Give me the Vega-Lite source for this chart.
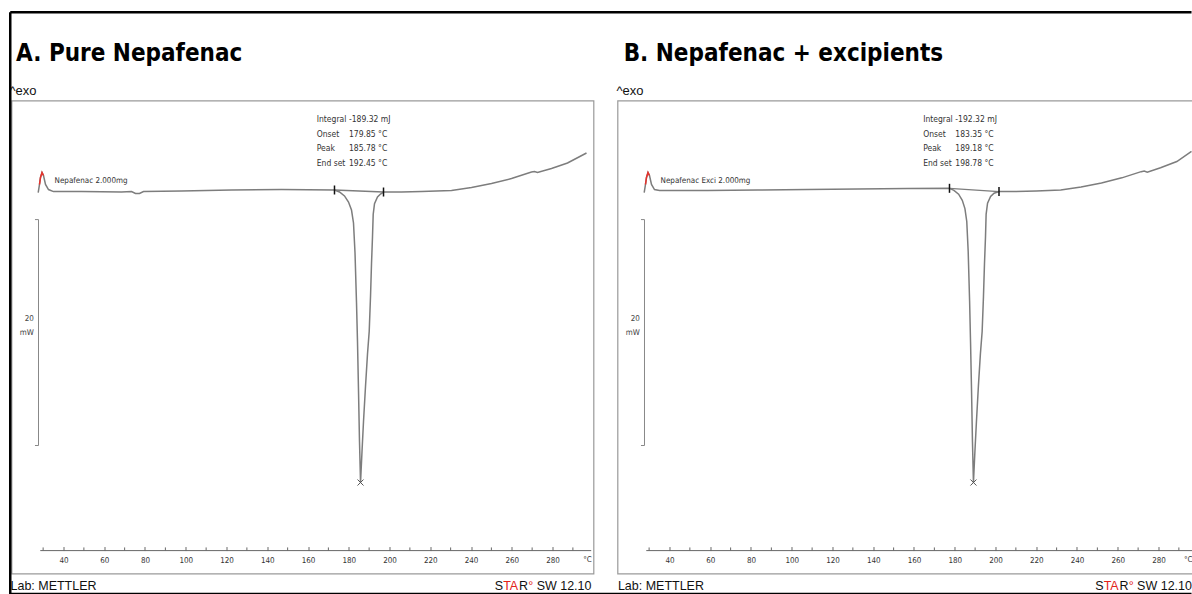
{
  "$schema": "https://vega.github.io/schema/vega-lite/v6.json",
  "background": "white",
  "padding": {"left": 7.5, "top": 9.55, "right": 0, "bottom": 0},
  "bounds": "flush",
  "spacing": 24,
  "config": {"view": {"stroke": "#9a9a9a", "strokeWidth": 1.2}},
  "datasets": {
    "curveA": [
      {"T": 27.58, "mW": -0.36}, {"T": 28.22, "mW": 0.36}, {"T": 28.71, "mW": 0.98}, {"T": 29.45, "mW": 1.42},
      {"T": 30.18, "mW": 1.16}, {"T": 31.17, "mW": 0.36}, {"T": 32.64, "mW": -0.09}, {"T": 35.09, "mW": -0.27},
      {"T": 48.83, "mW": -0.27}, {"T": 68.47, "mW": -0.31}, {"T": 73.37, "mW": -0.27}, {"T": 75.34, "mW": -0.44},
      {"T": 77.3, "mW": -0.44}, {"T": 79.26, "mW": -0.27}, {"T": 97.91, "mW": -0.22}, {"T": 122.45, "mW": -0.13},
      {"T": 146.99, "mW": -0.09}, {"T": 173.0, "mW": -0.13}, {"T": 175.46, "mW": -0.31}, {"T": 177.91, "mW": -0.66},
      {"T": 179.88, "mW": -1.2}, {"T": 181.35, "mW": -1.91}, {"T": 182.33, "mW": -3.06}, {"T": 183.07, "mW": -5.7},
      {"T": 183.8, "mW": -10.1}, {"T": 184.29, "mW": -13.6}, {"T": 184.79, "mW": -18.0}, {"T": 185.28, "mW": -22.5},
      {"T": 185.78, "mW": -26.13}, {"T": 186.5, "mW": -23.4}, {"T": 187.24, "mW": -20.7}, {"T": 188.22, "mW": -17.6},
      {"T": 189.2, "mW": -14.7}, {"T": 190.04, "mW": -12.7}, {"T": 190.68, "mW": -9.6}, {"T": 191.17, "mW": -6.67},
      {"T": 191.66, "mW": -4.27}, {"T": 192.0, "mW": -2.3}, {"T": 192.64, "mW": -1.35}, {"T": 194.11, "mW": -0.75},
      {"T": 195.58, "mW": -0.49}, {"T": 197.06, "mW": -0.31}, {"T": 205.89, "mW": -0.31}, {"T": 215.71, "mW": -0.27},
      {"T": 230.43, "mW": -0.18}, {"T": 240.25, "mW": 0.09}, {"T": 250.06, "mW": 0.44}, {"T": 259.88, "mW": 0.89},
      {"T": 269.69, "mW": 1.47}, {"T": 271.17, "mW": 1.51}, {"T": 272.64, "mW": 1.42}, {"T": 279.51, "mW": 1.78},
      {"T": 287.36, "mW": 2.27}, {"T": 296.69, "mW": 3.16}
    ],
    "curveB": [
      {"T": 27.58, "mW": -0.36}, {"T": 28.22, "mW": 0.36}, {"T": 28.71, "mW": 0.98}, {"T": 29.45, "mW": 1.42},
      {"T": 30.18, "mW": 1.16}, {"T": 31.17, "mW": 0.36}, {"T": 32.64, "mW": -0.09}, {"T": 35.09, "mW": -0.18},
      {"T": 58.65, "mW": -0.18}, {"T": 83.19, "mW": -0.13}, {"T": 107.73, "mW": -0.09}, {"T": 132.27, "mW": -0.04},
      {"T": 156.81, "mW": 0.0}, {"T": 177.42, "mW": 0.02}, {"T": 179.6, "mW": -0.16}, {"T": 181.9, "mW": -0.5},
      {"T": 183.7, "mW": -1.05}, {"T": 185.0, "mW": -1.78}, {"T": 185.9, "mW": -2.93}, {"T": 186.6, "mW": -5.6},
      {"T": 187.3, "mW": -10.04}, {"T": 187.75, "mW": -13.6}, {"T": 188.25, "mW": -18.0}, {"T": 188.7, "mW": -22.5},
      {"T": 189.18, "mW": -26.13}, {"T": 189.9, "mW": -23.38}, {"T": 190.65, "mW": -20.71}, {"T": 191.6, "mW": -17.6},
      {"T": 192.6, "mW": -14.67}, {"T": 193.45, "mW": -12.71}, {"T": 194.1, "mW": -9.6}, {"T": 194.6, "mW": -6.67},
      {"T": 195.1, "mW": -4.27}, {"T": 195.4, "mW": -2.3}, {"T": 196.1, "mW": -1.3}, {"T": 197.6, "mW": -0.7},
      {"T": 199.3, "mW": -0.42}, {"T": 201.72, "mW": -0.27}, {"T": 210.0, "mW": -0.27}, {"T": 220.0, "mW": -0.22},
      {"T": 232.0, "mW": -0.13}, {"T": 242.0, "mW": 0.13}, {"T": 252.0, "mW": 0.5}, {"T": 262.0, "mW": 0.95},
      {"T": 271.5, "mW": 1.5}, {"T": 273.0, "mW": 1.55}, {"T": 274.5, "mW": 1.45}, {"T": 281.0, "mW": 1.85},
      {"T": 289.0, "mW": 2.4}, {"T": 296.2, "mW": 3.3}
    ],
    "limitsA": [
      {"kind": "limit", "T": 173.0, "mW": -0.13},
      {"kind": "limit", "T": 197.06, "mW": -0.31},
      {"kind": "peak", "T": 185.78, "mW": -26.13}
    ],
    "limitsB": [
      {"kind": "limit", "T": 177.42, "mW": 0.02},
      {"kind": "limit", "T": 201.72, "mW": -0.27},
      {"kind": "peak", "T": 189.18, "mW": -26.13}
    ],
    "annA": [
      {"label": "Integral", "value": "-189.32 mJ", "mW": 6.18},
      {"label": "Onset", "value": "179.85 °C", "mW": 4.86},
      {"label": "Peak", "value": "185.78 °C", "mW": 3.56},
      {"label": "End set", "value": "192.45 °C", "mW": 2.24}
    ],
    "annB": [
      {"label": "Integral", "value": "-192.32 mJ", "mW": 6.18},
      {"label": "Onset", "value": "183.35 °C", "mW": 4.86},
      {"label": "Peak", "value": "189.18 °C", "mW": 3.56},
      {"label": "End set", "value": "198.78 °C", "mW": 2.24}
    ],
    "minorTicks": [
      {"T": 30}, {"T": 50}, {"T": 70}, {"T": 90}, {"T": 110}, {"T": 130}, {"T": 150},
      {"T": 170}, {"T": 190}, {"T": 210}, {"T": 230}, {"T": 250}, {"T": 270}, {"T": 290}
    ],
    "metaA": [{"title": "A. Pure Nepafenac", "sample": "Nepafenac 2.000mg"}],
    "metaB": [{"title": "B. Nepafenac + excipients", "sample": "Nepafenac  Exci 2.000mg"}]
  },
  "hconcat": [
    {
      "width": 582,
      "height": 473,
      "layer": [
        {
          "data": {"name": "curveA"},
          "mark": {"type": "line", "color": "#7d7d7d", "strokeWidth": 1.5},
          "encoding": {
            "x": {"field": "T", "type": "quantitative",
              "scale": {"domain": [14.48, 300.12], "nice": false, "zero": false},
              "axis": {"values": [40,60,80,100,120,140,160,180,200,220,240,260,280],
                "offset": -23, "domain": false, "grid": false, "tickSize": -4, "tickColor": "#666", "tickWidth": 1,
                "labelPadding": 10, "labelFont": "DejaVu Sans Condensed, Liberation Sans, sans-serif",
                "labelFontSize": 8, "labelColor": "#333", "title": null, "labelFlush": false, "labelOverlap": false}},
            "y": {"field": "mW", "type": "quantitative",
              "scale": {"domain": [-34.22, 7.82], "nice": false, "zero": false}, "axis": null}
          }
        },
        {
          "data": {"name": "curveA"},
          "transform": [{"filter": "datum.T >= 28.2 && datum.T <= 30.2"}],
          "mark": {"type": "line", "color": "#e8312b", "strokeWidth": 1.5},
          "encoding": {"x": {"field": "T", "type": "quantitative"}, "y": {"field": "mW", "type": "quantitative"}}
        },
        {
          "data": {"name": "limitsA"},
          "transform": [{"filter": "datum.kind == 'limit'"}],
          "mark": {"type": "line", "color": "#7d7d7d", "strokeWidth": 1.3},
          "encoding": {"x": {"field": "T", "type": "quantitative"}, "y": {"field": "mW", "type": "quantitative"}}
        },
        {
          "data": {"name": "limitsA"},
          "transform": [{"filter": "datum.kind == 'limit'"}],
          "mark": {"type": "tick", "orient": "vertical", "color": "#111", "size": 9, "thickness": 1.5, "opacity": 1},
          "encoding": {"x": {"field": "T", "type": "quantitative"}, "y": {"field": "mW", "type": "quantitative"}}
        },
        {
          "data": {"name": "limitsA"},
          "transform": [{"filter": "datum.kind == 'peak'"}],
          "mark": {"type": "point", "shape": "M-1,-1L1,1M-1,1L1,-1", "size": 36, "filled": false, "color": "#555", "strokeWidth": 1, "opacity": 1},
          "encoding": {"x": {"field": "T", "type": "quantitative"}, "y": {"field": "mW", "type": "quantitative"}}
        },
        {
          "data": {"name": "minorTicks"},
          "mark": {"type": "rule", "color": "#666", "strokeWidth": 1},
          "encoding": {"x": {"field": "T", "type": "quantitative"}, "y": {"datum": -32.18, "type": "quantitative"}, "y2": {"datum": -31.9}}
        },
        {
          "data": {"name": "annA"},
          "mark": {"type": "text", "align": "left", "baseline": "middle", "font": "DejaVu Sans Condensed, Liberation Sans, sans-serif", "fontSize": 8.5, "color": "#333"},
          "encoding": {"x": {"datum": 164.3, "type": "quantitative"}, "y": {"field": "mW", "type": "quantitative"}, "text": {"field": "label"}}
        },
        {
          "data": {"name": "annA"},
          "mark": {"type": "text", "align": "left", "baseline": "middle", "font": "DejaVu Sans Condensed, Liberation Sans, sans-serif", "fontSize": 8.5, "color": "#333"},
          "encoding": {"x": {"datum": 180.1, "type": "quantitative"}, "y": {"field": "mW", "type": "quantitative"}, "text": {"field": "value"}}
        },
        {
          "data": {"name": "metaA"},
          "mark": {"type": "text", "align": "left", "baseline": "middle", "font": "DejaVu Sans Condensed, Liberation Sans, sans-serif", "fontSize": 8, "color": "#333"},
          "encoding": {"x": {"datum": 35.6, "type": "quantitative"}, "y": {"datum": 0.71, "type": "quantitative"}, "text": {"field": "sample"}}
        },
        {
          "data": {"name": "metaA"},
          "mark": {"type": "text", "align": "left", "baseline": "alphabetic", "font": "DejaVu Sans Condensed, Liberation Sans, sans-serif", "fontSize": 24, "fontWeight": "bold", "color": "#000"},
          "encoding": {"x": {"datum": 16.7, "type": "quantitative"}, "y": {"datum": 11.33, "type": "quantitative"}, "text": {"field": "title"}}
        },
        {
          "data": {"name": "metaA"},
          "mark": {"type": "text", "text": "^exo", "align": "left", "baseline": "alphabetic", "font": "Liberation Sans, Arial, sans-serif", "fontSize": 13, "color": "#111"},
          "encoding": {"x": {"datum": 13.5, "type": "quantitative"}, "y": {"datum": 8.27, "type": "quantitative"}}
        },
        {
          "data": {"name": "metaA"},
          "mark": {"type": "rule", "color": "#888", "strokeWidth": 1},
          "encoding": {"x": {"datum": 27.73, "type": "quantitative"}, "y": {"datum": -2.76, "type": "quantitative"}, "y2": {"datum": -22.84}}
        },
        {
          "data": {"name": "metaA"},
          "mark": {"type": "rule", "color": "#888", "strokeWidth": 1},
          "encoding": {"x": {"datum": 26.0, "type": "quantitative"}, "x2": {"datum": 27.73}, "y": {"datum": -2.76, "type": "quantitative"}}
        },
        {
          "data": {"name": "metaA"},
          "mark": {"type": "rule", "color": "#888", "strokeWidth": 1},
          "encoding": {"x": {"datum": 26.0, "type": "quantitative"}, "x2": {"datum": 27.73}, "y": {"datum": -22.84, "type": "quantitative"}}
        },
        {
          "data": {"name": "metaA"},
          "mark": {"type": "text", "text": "20", "align": "right", "baseline": "middle", "font": "DejaVu Sans Condensed, Liberation Sans, sans-serif", "fontSize": 8, "color": "#444"},
          "encoding": {"x": {"datum": 25.42, "type": "quantitative"}, "y": {"datum": -11.56, "type": "quantitative"}}
        },
        {
          "data": {"name": "metaA"},
          "mark": {"type": "text", "text": "mW", "align": "right", "baseline": "middle", "font": "DejaVu Sans Condensed, Liberation Sans, sans-serif", "fontSize": 8, "color": "#444"},
          "encoding": {"x": {"datum": 25.42, "type": "quantitative"}, "y": {"datum": -12.85, "type": "quantitative"}}
        },
        {
          "data": {"name": "metaA"},
          "mark": {"type": "rule", "color": "#666", "strokeWidth": 1},
          "encoding": {"x": {"datum": 28.6, "type": "quantitative"}, "x2": {"datum": 299.0}, "y": {"datum": -32.18, "type": "quantitative"}}
        },
        {
          "data": {"name": "metaA"},
          "mark": {"type": "text", "text": "°C", "align": "center", "baseline": "middle", "font": "DejaVu Sans Condensed, Liberation Sans, sans-serif", "fontSize": 8, "color": "#333"},
          "encoding": {"x": {"datum": 297.2, "type": "quantitative"}, "y": {"datum": -33.0, "type": "quantitative"}}
        },
        {
          "data": {"name": "metaA"},
          "mark": {"type": "text", "text": "Lab: METTLER", "align": "left", "baseline": "alphabetic", "font": "Liberation Sans, Arial, sans-serif", "fontSize": 12.5, "color": "#111"},
          "encoding": {"x": {"datum": 13.99, "type": "quantitative"}, "y": {"datum": -35.64, "type": "quantitative"}}
        },
        {
          "data": {"name": "metaA"},
          "mark": {"type": "text", "text": "S", "align": "left", "baseline": "alphabetic", "font": "Liberation Sans, Arial, sans-serif", "fontSize": 12.5, "color": "#111"},
          "encoding": {"x": {"datum": 251.68, "type": "quantitative"}, "y": {"datum": -35.64, "type": "quantitative"}}
        },
        {
          "data": {"name": "metaA"},
          "mark": {"type": "text", "text": "TA", "dx": 8.34, "align": "left", "baseline": "alphabetic", "font": "Liberation Sans, Arial, sans-serif", "fontSize": 12.5, "color": "#e2231a"},
          "encoding": {"x": {"datum": 251.68, "type": "quantitative"}, "y": {"datum": -35.64, "type": "quantitative"}}
        },
        {
          "data": {"name": "metaA"},
          "mark": {"type": "text", "text": "R", "dx": 24.32, "align": "left", "baseline": "alphabetic", "font": "Liberation Sans, Arial, sans-serif", "fontSize": 12.5, "color": "#111"},
          "encoding": {"x": {"datum": 251.68, "type": "quantitative"}, "y": {"datum": -35.64, "type": "quantitative"}}
        },
        {
          "data": {"name": "metaA"},
          "mark": {"type": "text", "text": "°", "dx": 33.35, "align": "left", "baseline": "alphabetic", "font": "Liberation Sans, Arial, sans-serif", "fontSize": 12.5, "color": "#e2231a"},
          "encoding": {"x": {"datum": 251.68, "type": "quantitative"}, "y": {"datum": -35.64, "type": "quantitative"}}
        },
        {
          "data": {"name": "metaA"},
          "mark": {"type": "text", "text": "SW 12.10", "dx": 41.83, "align": "left", "baseline": "alphabetic", "font": "Liberation Sans, Arial, sans-serif", "fontSize": 12.5, "color": "#111"},
          "encoding": {"x": {"datum": 251.68, "type": "quantitative"}, "y": {"datum": -35.64, "type": "quantitative"}}
        },
        {
          "data": {"name": "metaA"},
          "mark": {"type": "rule", "color": "#000", "strokeWidth": 2.5},
          "encoding": {"x": {"datum": 13.865, "type": "quantitative"}, "y": {"datum": 15.66, "type": "quantitative"}, "y2": {"datum": -36.04}}
        },
        {
          "data": {"name": "metaA"},
          "mark": {"type": "rule", "color": "#000", "strokeWidth": 2.5},
          "encoding": {"x": {"datum": 13.865, "type": "quantitative"}, "x2": {"datum": 593.62}, "y": {"datum": 15.66, "type": "quantitative"}}
        },
        {
          "data": {"name": "metaA"},
          "mark": {"type": "rule", "color": "#000", "strokeWidth": 2.5},
          "encoding": {"x": {"datum": 13.865, "type": "quantitative"}, "x2": {"datum": 593.62}, "y": {"datum": -36.04, "type": "quantitative"}}
        }
      ]
    },
    {
      "width": 575,
      "height": 473,
      "layer": [
        {
          "data": {"name": "curveB"},
          "mark": {"type": "line", "color": "#7d7d7d", "strokeWidth": 1.5},
          "encoding": {
            "x": {"field": "T", "type": "quantitative",
              "scale": {"domain": [14.48, 296.69], "nice": false, "zero": false},
              "axis": {"values": [40,60,80,100,120,140,160,180,200,220,240,260,280],
                "offset": -23, "domain": false, "grid": false, "tickSize": -4, "tickColor": "#666", "tickWidth": 1,
                "labelPadding": 10, "labelFont": "DejaVu Sans Condensed, Liberation Sans, sans-serif",
                "labelFontSize": 8, "labelColor": "#333", "title": null, "labelFlush": false, "labelOverlap": false}},
            "y": {"field": "mW", "type": "quantitative",
              "scale": {"domain": [-34.22, 7.82], "nice": false, "zero": false}, "axis": null}
          }
        },
        {
          "data": {"name": "curveB"},
          "transform": [{"filter": "datum.T >= 28.2 && datum.T <= 30.2"}],
          "mark": {"type": "line", "color": "#e8312b", "strokeWidth": 1.5},
          "encoding": {"x": {"field": "T", "type": "quantitative"}, "y": {"field": "mW", "type": "quantitative"}}
        },
        {
          "data": {"name": "limitsB"},
          "transform": [{"filter": "datum.kind == 'limit'"}],
          "mark": {"type": "line", "color": "#7d7d7d", "strokeWidth": 1.3},
          "encoding": {"x": {"field": "T", "type": "quantitative"}, "y": {"field": "mW", "type": "quantitative"}}
        },
        {
          "data": {"name": "limitsB"},
          "transform": [{"filter": "datum.kind == 'limit'"}],
          "mark": {"type": "tick", "orient": "vertical", "color": "#111", "size": 9, "thickness": 1.5, "opacity": 1},
          "encoding": {"x": {"field": "T", "type": "quantitative"}, "y": {"field": "mW", "type": "quantitative"}}
        },
        {
          "data": {"name": "limitsB"},
          "transform": [{"filter": "datum.kind == 'peak'"}],
          "mark": {"type": "point", "shape": "M-1,-1L1,1M-1,1L1,-1", "size": 36, "filled": false, "color": "#555", "strokeWidth": 1, "opacity": 1},
          "encoding": {"x": {"field": "T", "type": "quantitative"}, "y": {"field": "mW", "type": "quantitative"}}
        },
        {
          "data": {"name": "minorTicks"},
          "mark": {"type": "rule", "color": "#666", "strokeWidth": 1},
          "encoding": {"x": {"field": "T", "type": "quantitative"}, "y": {"datum": -32.18, "type": "quantitative"}, "y2": {"datum": -31.9}}
        },
        {
          "data": {"name": "annB"},
          "mark": {"type": "text", "align": "left", "baseline": "middle", "font": "DejaVu Sans Condensed, Liberation Sans, sans-serif", "fontSize": 8.5, "color": "#333"},
          "encoding": {"x": {"datum": 164.5, "type": "quantitative"}, "y": {"field": "mW", "type": "quantitative"}, "text": {"field": "label"}}
        },
        {
          "data": {"name": "annB"},
          "mark": {"type": "text", "align": "left", "baseline": "middle", "font": "DejaVu Sans Condensed, Liberation Sans, sans-serif", "fontSize": 8.5, "color": "#333"},
          "encoding": {"x": {"datum": 180.3, "type": "quantitative"}, "y": {"field": "mW", "type": "quantitative"}, "text": {"field": "value"}}
        },
        {
          "data": {"name": "metaB"},
          "mark": {"type": "text", "align": "left", "baseline": "middle", "font": "DejaVu Sans Condensed, Liberation Sans, sans-serif", "fontSize": 8, "color": "#333"},
          "encoding": {"x": {"datum": 35.6, "type": "quantitative"}, "y": {"datum": 0.71, "type": "quantitative"}, "text": {"field": "sample"}}
        },
        {
          "data": {"name": "metaB"},
          "mark": {"type": "text", "align": "left", "baseline": "alphabetic", "font": "DejaVu Sans Condensed, Liberation Sans, sans-serif", "fontSize": 24, "fontWeight": "bold", "color": "#000"},
          "encoding": {"x": {"datum": 17.5, "type": "quantitative"}, "y": {"datum": 11.33, "type": "quantitative"}, "text": {"field": "title"}}
        },
        {
          "data": {"name": "metaB"},
          "mark": {"type": "text", "text": "^exo", "align": "left", "baseline": "alphabetic", "font": "Liberation Sans, Arial, sans-serif", "fontSize": 13, "color": "#111"},
          "encoding": {"x": {"datum": 13.99, "type": "quantitative"}, "y": {"datum": 8.27, "type": "quantitative"}}
        },
        {
          "data": {"name": "metaB"},
          "mark": {"type": "rule", "color": "#888", "strokeWidth": 1},
          "encoding": {"x": {"datum": 27.73, "type": "quantitative"}, "y": {"datum": -2.76, "type": "quantitative"}, "y2": {"datum": -22.84}}
        },
        {
          "data": {"name": "metaB"},
          "mark": {"type": "rule", "color": "#888", "strokeWidth": 1},
          "encoding": {"x": {"datum": 26.0, "type": "quantitative"}, "x2": {"datum": 27.73}, "y": {"datum": -2.76, "type": "quantitative"}}
        },
        {
          "data": {"name": "metaB"},
          "mark": {"type": "rule", "color": "#888", "strokeWidth": 1},
          "encoding": {"x": {"datum": 26.0, "type": "quantitative"}, "x2": {"datum": 27.73}, "y": {"datum": -22.84, "type": "quantitative"}}
        },
        {
          "data": {"name": "metaB"},
          "mark": {"type": "text", "text": "20", "align": "right", "baseline": "middle", "font": "DejaVu Sans Condensed, Liberation Sans, sans-serif", "fontSize": 8, "color": "#444"},
          "encoding": {"x": {"datum": 25.42, "type": "quantitative"}, "y": {"datum": -11.56, "type": "quantitative"}}
        },
        {
          "data": {"name": "metaB"},
          "mark": {"type": "text", "text": "mW", "align": "right", "baseline": "middle", "font": "DejaVu Sans Condensed, Liberation Sans, sans-serif", "fontSize": 8, "color": "#444"},
          "encoding": {"x": {"datum": 25.42, "type": "quantitative"}, "y": {"datum": -12.85, "type": "quantitative"}}
        },
        {
          "data": {"name": "metaB"},
          "mark": {"type": "rule", "color": "#666", "strokeWidth": 1},
          "encoding": {"x": {"datum": 28.6, "type": "quantitative"}, "x2": {"datum": 296.69}, "y": {"datum": -32.18, "type": "quantitative"}}
        },
        {
          "data": {"name": "metaB"},
          "mark": {"type": "text", "text": "°C", "align": "center", "baseline": "middle", "font": "DejaVu Sans Condensed, Liberation Sans, sans-serif", "fontSize": 8, "color": "#333"},
          "encoding": {"x": {"datum": 294.6, "type": "quantitative"}, "y": {"datum": -33.0, "type": "quantitative"}}
        },
        {
          "data": {"name": "metaB"},
          "mark": {"type": "text", "text": "Lab: METTLER", "align": "left", "baseline": "alphabetic", "font": "Liberation Sans, Arial, sans-serif", "fontSize": 12.5, "color": "#111"},
          "encoding": {"x": {"datum": 14.68, "type": "quantitative"}, "y": {"datum": -35.64, "type": "quantitative"}}
        },
        {
          "data": {"name": "metaB"},
          "mark": {"type": "text", "text": "S", "align": "left", "baseline": "alphabetic", "font": "Liberation Sans, Arial, sans-serif", "fontSize": 12.5, "color": "#111"},
          "encoding": {"x": {"datum": 248.98, "type": "quantitative"}, "y": {"datum": -35.64, "type": "quantitative"}}
        },
        {
          "data": {"name": "metaB"},
          "mark": {"type": "text", "text": "TA", "dx": 8.34, "align": "left", "baseline": "alphabetic", "font": "Liberation Sans, Arial, sans-serif", "fontSize": 12.5, "color": "#e2231a"},
          "encoding": {"x": {"datum": 248.98, "type": "quantitative"}, "y": {"datum": -35.64, "type": "quantitative"}}
        },
        {
          "data": {"name": "metaB"},
          "mark": {"type": "text", "text": "R", "dx": 24.32, "align": "left", "baseline": "alphabetic", "font": "Liberation Sans, Arial, sans-serif", "fontSize": 12.5, "color": "#111"},
          "encoding": {"x": {"datum": 248.98, "type": "quantitative"}, "y": {"datum": -35.64, "type": "quantitative"}}
        },
        {
          "data": {"name": "metaB"},
          "mark": {"type": "text", "text": "°", "dx": 33.35, "align": "left", "baseline": "alphabetic", "font": "Liberation Sans, Arial, sans-serif", "fontSize": 12.5, "color": "#e2231a"},
          "encoding": {"x": {"datum": 248.98, "type": "quantitative"}, "y": {"datum": -35.64, "type": "quantitative"}}
        },
        {
          "data": {"name": "metaB"},
          "mark": {"type": "text", "text": "SW 12.10", "dx": 41.83, "align": "left", "baseline": "alphabetic", "font": "Liberation Sans, Arial, sans-serif", "fontSize": 12.5, "color": "#111"},
          "encoding": {"x": {"datum": 248.98, "type": "quantitative"}, "y": {"datum": -35.64, "type": "quantitative"}}
        }
      ]
    }
  ]
}
